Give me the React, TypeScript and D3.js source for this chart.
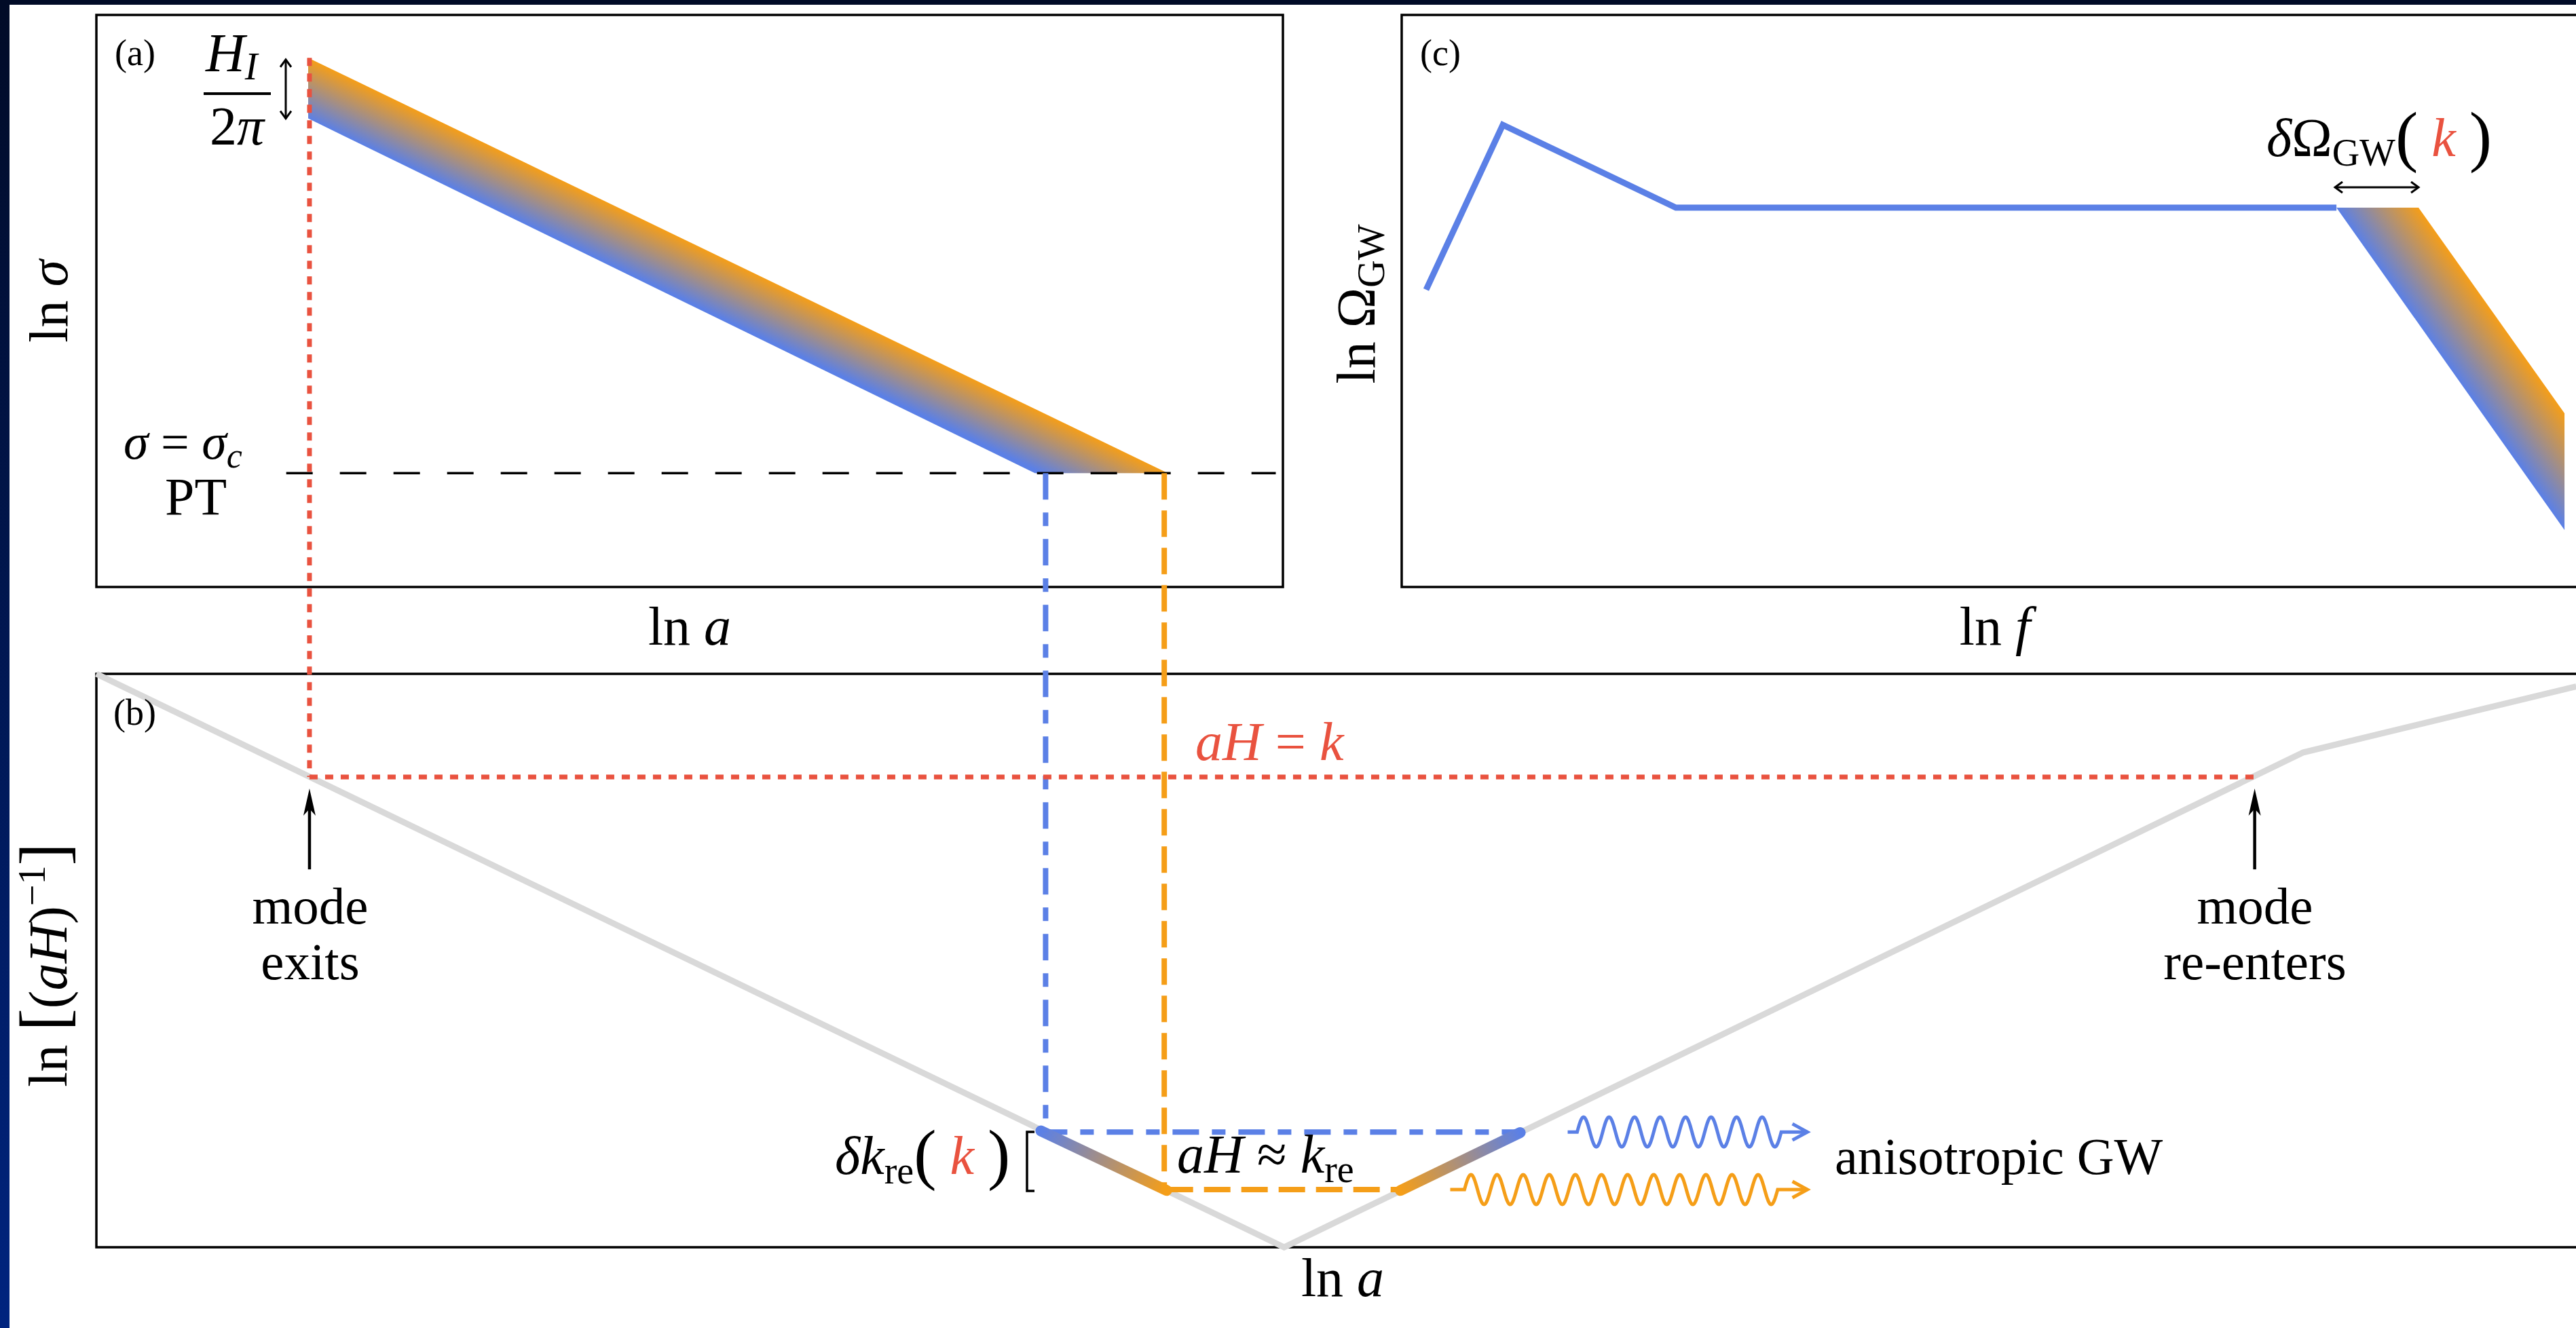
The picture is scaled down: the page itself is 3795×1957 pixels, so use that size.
import React from 'react';
import * as d3 from 'd3';

const W = 3795;
const H = 1957;

const BLUE = '#5b80e6';
const ORANGE = '#f59e18';
const RED = '#e9523f';
const GREY = '#d9d9d9';
const FONT = "'Liberation Serif', 'Times New Roman', serif";

// panel (a): ln sigma against ln a (units of the drawing scales, 0..10)
const bandOrangeA = [[1.785, 9.25], [9.03, 1.99]];
const bandBlueA = [[1.785, 8.19], [7.91, 1.99]];
const sigmaC = 1.99;
const ptDashX = [1.6, 9.94];
const hiArrowX = 1.596;
const hiArrowY = [9.22, 8.19];

// panel (b): comoving horizon ln[(aH)^-1] against ln a
const horizonX = [0, 10.01, 18.6, 20.9];
const horizonY = [10, 0, 8.63, 9.78];
const exitX = 1.796;
const reentryX = 18.19;
const crossY = 8.2;
const markArrowY = [6.59, 8.0];
const blueX = 8.0;
const orangeX = 9.0;
const blueReY = 2.01;
const orangeReY = 1.006;
const blueReSpan = [7.96, 12.0];
const orangeReSpan = [9.02, 10.97];
const segLeft = [[7.96, 2.03], [9.02, 0.99]];
const segRight = [[10.99, 0.99], [12.0, 2.0]];
// wave: stub start, wave start, wave end, arrow tip, cycles
const waveBlue = [12.4, 12.48, 14.2, 14.42, 8];
const waveOrange = [11.41, 11.53, 14.17, 14.42, 12];
const waveAmp = 0.26;

// panel (c): ln Omega_GW against ln f
const specX = [0.206, 0.852, 2.311, 7.878];
const specY = [5.196, 8.078, 6.631, 6.631];
const bandBlueC = [[7.878, 6.631], [9.8, 0.996]];
const bandOrangeC = [[8.57, 6.631], [9.8, 3.037]];
const dOmegaY = 6.987;
const dOmegaX = [7.866, 8.57];

const chevron = (tx: number, ty: number, ang: number, len: number, half: number) => {
  const c = Math.cos(ang), s = Math.sin(ang);
  const bx = tx - c * len, by = ty - s * len;
  return `M${bx - s * half},${by + c * half}L${tx},${ty}L${bx + s * half},${by - c * half}`;
};

const perpGrad = (b: number[], o0: number[], o1: number[]) => {
  const dx = o1[0] - o0[0], dy = o1[1] - o0[1];
  const L = Math.hypot(dx, dy);
  const nx = -dy / L, ny = dx / L;
  const s = (o0[0] - b[0]) * nx + (o0[1] - b[1]) * ny;
  return { x1: b[0], y1: b[1], x2: b[0] + s * nx, y2: b[1] + s * ny };
};

export default function App() {
  const xAB = d3.scaleLinear().domain([0, 10]).range([142, 1890]);
  const yA = d3.scaleLinear().domain([0, 10]).range([865, 22]);
  const yB = d3.scaleLinear().domain([0, 10]).range([1838, 993]);
  const xC = d3.scaleLinear().domain([0, 10]).range([2065, 3813]);
  const yC = d3.scaleLinear().domain([0, 10]).range([865, 22]);

  const line = d3.line<number[]>().x(d => d[0]).y(d => d[1]);

  // band polygons in pixels
  const pa = (p: number[]) => [xAB(p[0]), yA(p[1])];
  const pc = (p: number[]) => [xC(p[0]), yC(p[1])];
  const bandA = [pa(bandOrangeA[0]), pa(bandOrangeA[1]), pa(bandBlueA[1]), pa(bandBlueA[0])];
  const gA = perpGrad(pa(bandBlueA[0]), pa(bandOrangeA[0]), pa(bandOrangeA[1]));
  const bandC = [pc(bandBlueC[0]), pc(bandOrangeC[0]), pc(bandOrangeC[1]), pc(bandBlueC[1])];
  const gC = perpGrad(pc(bandBlueC[0]), pc(bandOrangeC[0]), pc(bandOrangeC[1]));

  const horizon = horizonX.map((x, i) => [xAB(x), yB(horizonY[i])]);
  const spectrum = specX.map((x, i) => [xC(x), yC(specY[i])]);

  const wavePath = (w: number[], yc: number) => {
    const [s0, w0, w1, tip, cyc] = w;
    const X0 = xAB(w0), X1 = xAB(w1), Y = yB(yc);
    const amp = yB(0) - yB(waveAmp);
    const pts: number[][] = [[xAB(s0), Y], [X0, Y]];
    const n = 400;
    for (let i = 1; i <= n; i++) {
      const x = X0 + ((X1 - X0) * i) / n;
      pts.push([x, Y - amp * Math.sin((2 * Math.PI * cyc * i) / n)]);
    }
    pts.push([xAB(tip), Y]);
    return line(pts) as string;
  };

  const segL = segLeft.map(p => [xAB(p[0]), yB(p[1])]);
  const segR = segRight.map(p => [xAB(p[0]), yB(p[1])]);

  const upArrow = (x: number) => {
    const yTip = yB(markArrowY[1]);
    const yBase = yB(markArrowY[0]);
    return (
      <g>
        <line x1={x} x2={x} y1={yBase} y2={yTip + 20} stroke="#000" strokeWidth={4.5} />
        <path d={`M${x},${yTip}L${x + 9},${yTip + 40}L${x},${yTip + 30}L${x - 9},${yTip + 40}Z`} fill="#000" />
      </g>
    );
  };

  const txt = { fontFamily: FONT, fill: '#000' } as const;

  return (
    <svg width={W} height={H} style={{ position: 'absolute', left: 0, top: 0 }}>
      <defs>
        <linearGradient id="sideBar" x1="0" y1="0" x2="0" y2="1">
          <stop offset="0" stopColor="#010b27" />
          <stop offset="1" stopColor="#00247f" />
        </linearGradient>
        <linearGradient id="bandA" gradientUnits="userSpaceOnUse" x1={gA.x1} y1={gA.y1} x2={gA.x2} y2={gA.y2}>
          <stop offset="0" stopColor={BLUE} />
          <stop offset="1" stopColor={ORANGE} />
        </linearGradient>
        <linearGradient id="bandC" gradientUnits="userSpaceOnUse" x1={gC.x1} y1={gC.y1} x2={gC.x2} y2={gC.y2}>
          <stop offset="0" stopColor={BLUE} />
          <stop offset="1" stopColor={ORANGE} />
        </linearGradient>
        <linearGradient id="segL" gradientUnits="userSpaceOnUse" x1={segL[0][0]} y1={segL[0][1]} x2={segL[1][0]} y2={segL[1][1]}>
          <stop offset="0" stopColor={BLUE} />
          <stop offset="1" stopColor={ORANGE} />
        </linearGradient>
        <linearGradient id="segR" gradientUnits="userSpaceOnUse" x1={segR[1][0]} y1={segR[1][1]} x2={segR[0][0]} y2={segR[0][1]}>
          <stop offset="0" stopColor={BLUE} />
          <stop offset="1" stopColor={ORANGE} />
        </linearGradient>
      </defs>

      <rect x={0} y={0} width={W} height={H} fill="#fff" />
      <rect x={0} y={0} width={W} height={7} fill="#010b27" />
      <rect x={0} y={0} width={14} height={H} fill="url(#sideBar)" />

      {/* frames */}
      <rect x={xAB(0)} y={yA(10)} width={xAB(10) - xAB(0)} height={yA(0) - yA(10)} fill="none" stroke="#000" strokeWidth={3.5} />
      <rect x={xC(0)} y={yC(10)} width={xC(10) - xC(0)} height={yC(0) - yC(10)} fill="none" stroke="#000" strokeWidth={3.5} />
      <rect x={xAB(0)} y={yB(10)} width={xAB(21) - xAB(0)} height={yB(0) - yB(10)} fill="none" stroke="#000" strokeWidth={3.5} />

      {/* panel (a) */}
      <path d={line(bandA) + 'Z'} fill="url(#bandA)" />
      <line x1={xAB(ptDashX[0])} x2={xAB(ptDashX[1])} y1={yA(sigmaC)} y2={yA(sigmaC)} stroke="#000" strokeWidth={3.5} strokeDasharray="39 40" />
      <line x1={xAB(hiArrowX)} x2={xAB(hiArrowX)} y1={yA(hiArrowY[0])} y2={yA(hiArrowY[1])} stroke="#000" strokeWidth={3} />
      <path d={chevron(xAB(hiArrowX), yA(hiArrowY[0]), -Math.PI / 2, 11, 8)} fill="none" stroke="#000" strokeWidth={3} />
      <path d={chevron(xAB(hiArrowX), yA(hiArrowY[1]), Math.PI / 2, 11, 8)} fill="none" stroke="#000" strokeWidth={3} />

      {/* panel (c) */}
      <path d={line(bandC) + 'Z'} fill="url(#bandC)" />
      <path d={line(spectrum) as string} fill="none" stroke={BLUE} strokeWidth={9} strokeLinejoin="miter" />
      <line x1={xC(dOmegaX[0])} x2={xC(dOmegaX[1])} y1={yC(dOmegaY)} y2={yC(dOmegaY)} stroke="#000" strokeWidth={3} />
      <path d={chevron(xC(dOmegaX[0]), yC(dOmegaY), Math.PI, 11, 8)} fill="none" stroke="#000" strokeWidth={3} />
      <path d={chevron(xC(dOmegaX[1]), yC(dOmegaY), 0, 11, 8)} fill="none" stroke="#000" strokeWidth={3} />

      {/* panel (b) */}
      <path d={line(horizon) as string} fill="none" stroke={GREY} strokeWidth={9} strokeLinejoin="miter" />
      <line x1={xAB(blueReSpan[0])} x2={xAB(blueReSpan[1])} y1={yB(blueReY)} y2={yB(blueReY)} stroke={BLUE} strokeWidth={8} strokeDasharray="39 19 20 19" />
      <line x1={xAB(orangeReSpan[0])} x2={xAB(orangeReSpan[1])} y1={yB(orangeReY)} y2={yB(orangeReY)} stroke={ORANGE} strokeWidth={8} strokeDasharray="39 16" />
      <path d={line(segL) as string} stroke="url(#segL)" strokeWidth={16} strokeLinecap="round" fill="none" />
      <path d={line(segR) as string} stroke="url(#segR)" strokeWidth={16} strokeLinecap="round" fill="none" />
      <path d={wavePath(waveBlue, blueReY)} fill="none" stroke={BLUE} strokeWidth={5} />
      <path d={chevron(xAB(waveBlue[3]), yB(blueReY), 0, 22, 12)} fill="none" stroke={BLUE} strokeWidth={5} />
      <path d={wavePath(waveOrange, orangeReY)} fill="none" stroke={ORANGE} strokeWidth={5} />
      <path d={chevron(xAB(waveOrange[3]), yB(orangeReY), 0, 22, 12)} fill="none" stroke={ORANGE} strokeWidth={5} />
      {upArrow(xAB(exitX))}
      {upArrow(xAB(reentryX))}

      {/* connectors across panels */}
      <line x1={xAB(blueX)} x2={xAB(blueX)} y1={yA(sigmaC)} y2={yB(blueReY)} stroke={BLUE} strokeWidth={8} strokeDasharray="39 19 20 19" />
      <line x1={xAB(orangeX)} x2={xAB(orangeX)} y1={yA(sigmaC)} y2={yB(orangeReY)} stroke={ORANGE} strokeWidth={8} strokeDasharray="39 16" />
      <line x1={xAB(exitX)} x2={xAB(exitX)} y1={yA(bandOrangeA[0][1])} y2={yB(crossY)} stroke={RED} strokeWidth={7} strokeDasharray="12 11" />
      <line x1={xAB(exitX)} x2={xAB(reentryX)} y1={yB(crossY)} y2={yB(crossY)} stroke={RED} strokeWidth={7} strokeDasharray="12 11" />

      {/* panel tags */}
      <text x={169} y={96} fontSize={54} {...txt}>(a)</text>
      <text x={167} y={1068} fontSize={54} {...txt}>(b)</text>
      <text x={2092} y={96} fontSize={54} {...txt}>(c)</text>

      {/* axis labels */}
      <text x={1016} y={950} fontSize={80} textAnchor="middle" {...txt}>ln <tspan fontStyle="italic">a</tspan></text>
      <text x={2939} y={950} fontSize={80} textAnchor="middle" {...txt}>ln <tspan fontStyle="italic">f</tspan></text>
      <text x={1978} y={1910} fontSize={80} textAnchor="middle" {...txt}>ln <tspan fontStyle="italic">a</tspan></text>
      <text transform="translate(99,444) rotate(-90)" fontSize={80} textAnchor="middle" {...txt}>ln <tspan fontStyle="italic">σ</tspan></text>
      <text transform="translate(2025,448) rotate(-90)" fontSize={80} textAnchor="middle" {...txt}>
        ln Ω<tspan fontSize={56} dy={14}>GW</tspan>
      </text>
      <text transform="translate(98,1422) rotate(-90)" fontSize={80} textAnchor="middle" {...txt}>
        ln <tspan fontSize={100}>[</tspan>(<tspan fontStyle="italic">aH</tspan>)<tspan fontSize={56} dy={-32}>−1</tspan><tspan fontSize={100} dy={32}>]</tspan>
      </text>

      {/* annotations (a) */}
      <text x={303} y={105} fontSize={80} fontStyle="italic" {...txt}>H<tspan fontSize={56} dy={12}>I</tspan></text>
      <line x1={300} x2={399} y1={138} y2={138} stroke="#000" strokeWidth={4} />
      <text x={349} y={213} fontSize={80} textAnchor="middle" {...txt}>2<tspan fontStyle="italic">π</tspan></text>
      <text fontSize={74} {...txt}>
        <tspan x={182} y={676} fontStyle="italic">σ</tspan>
        <tspan> = </tspan>
        <tspan fontStyle="italic">σ</tspan>
        <tspan fontSize={52} fontStyle="italic" dy={13}>c</tspan>
        <tspan x={243} y={758} fontSize={78}>PT</tspan>
      </text>

      {/* annotations (b) */}
      <text x={1761} y={1120} fontSize={80} fontStyle="italic" fontFamily={FONT} fill={RED}>
        aH <tspan fontStyle="normal">=</tspan> k
      </text>
      <text fontSize={77} textAnchor="middle" {...txt}>
        <tspan x={457} y={1361}>mode</tspan>
        <tspan x={457} y={1443}>exits</tspan>
      </text>
      <text fontSize={77} textAnchor="middle" {...txt}>
        <tspan x={3322} y={1361}>mode</tspan>
        <tspan x={3322} y={1443}>re-enters</tspan>
      </text>
      <text x={2703} y={1730} fontSize={76} {...txt}>anisotropic GW</text>
      <text x={1734} y={1728} fontSize={80} {...txt}>
        <tspan fontStyle="italic">aH</tspan> ≈ <tspan fontStyle="italic">k</tspan><tspan fontSize={56} dy={14}>re</tspan>
      </text>
      <text x={1230} y={1730} fontSize={80} {...txt}>
        <tspan fontStyle="italic">δk</tspan><tspan fontSize={56} dy={14}>re</tspan><tspan fontSize={100} dy={-10}>(</tspan><tspan fontStyle="italic" fill={RED} dy={-4}>{' k '}</tspan><tspan fontSize={100} dy={4}>)</tspan>
      </text>
      <path d="M1524,1668L1513,1668L1513,1755L1524,1755" fill="none" stroke="#000" strokeWidth={3.5} />

      {/* annotations (c) */}
      <text x={3339} y={230} fontSize={80} {...txt}>
        <tspan fontStyle="italic">δ</tspan>Ω<tspan fontSize={56} dy={14}>GW</tspan><tspan fontSize={100} dy={-10}>(</tspan><tspan fontStyle="italic" fill={RED} dy={-4}>{' k '}</tspan><tspan fontSize={100} dy={4}>)</tspan>
      </text>
    </svg>
  );
}
